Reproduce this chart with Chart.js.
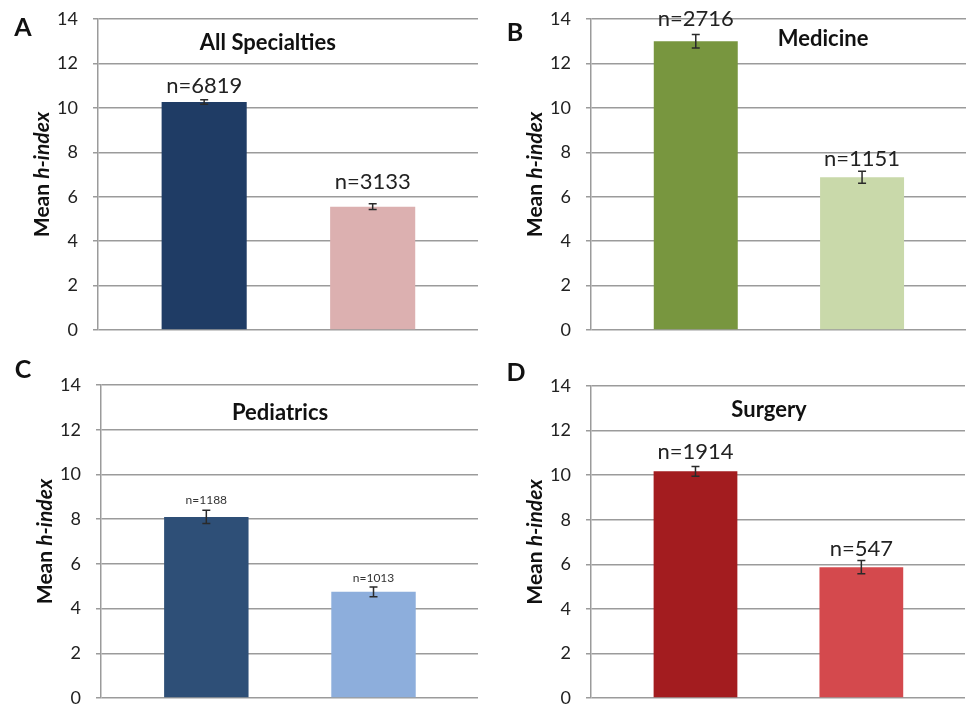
<!DOCTYPE html>
<html>
<head>
<meta charset="utf-8">
<script src="https://cdn.jsdelivr.net/npm/chart.js@4"></script>
<style>
  html, body { margin: 0; padding: 0; background: #fff; }
  #wrap { position: relative; width: 973px; height: 704px; overflow: hidden; }
  .panel { position: absolute; }
</style>
</head>
<body>
<div id="wrap">
  <div class="panel" style="left:0;top:0;width:487px;height:352px"><canvas id="cA" width="487" height="352"></canvas></div>
  <div class="panel" style="left:487px;top:0;width:486px;height:352px"><canvas id="cB" width="486" height="352"></canvas></div>
  <div class="panel" style="left:0;top:352px;width:487px;height:352px"><canvas id="cC" width="487" height="352"></canvas></div>
  <div class="panel" style="left:487px;top:352px;width:486px;height:352px"><canvas id="cD" width="486" height="352"></canvas></div>
</div>
<script>
// Bar slots (two groups per panel) and y-axis ticks
const barSlots = [0, 1];
const yTicks = [0, 2, 4, 6, 8, 10, 12, 14];

const panelLetters = ['A', 'B', 'C', 'D'];
const panelTitles = ['All Specialties', 'Medicine', 'Pediatrics', 'Surgery'];

// Mean h-index, standard error and group size per panel
const meansAll = [10.26, 5.55];
const errAll = [0.10, 0.13];
const countsAll = [6819, 3133];

const meansMed = [13.0, 6.88];
const errMed = [0.30, 0.27];
const countsMed = [2716, 1151];

const meansPed = [8.1, 4.75];
const errPed = [0.30, 0.22];
const countsPed = [1188, 1013];

const meansSurg = [10.17, 5.87];
const errSurg = [0.22, 0.30];
const countsSurg = [1914, 547];

const FONT = 'Lato, "Open Sans", sans-serif';

// Error bars, n= labels, panel title, panel letter and the two-style axis title
const panelDecor = {
  id: 'panelDecor',
  afterDatasetsDraw(chart, args, o) {
    const ctx = chart.ctx;
    const ca = chart.chartArea;
    const xs = chart.scales.x, ys = chart.scales.y;
    ctx.save();
    o.means.forEach((v, i) => {
      const x = xs.getPixelForValue(barSlots[i]);
      const hi = ys.getPixelForValue(v + o.errors[i]);
      const lo = ys.getPixelForValue(v - o.errors[i]);
      // error bar
      ctx.strokeStyle = '#2a2a2a';
      ctx.lineWidth = 1.5;
      ctx.beginPath();
      ctx.moveTo(x, hi); ctx.lineTo(x, lo);
      ctx.moveTo(x - 4, hi); ctx.lineTo(x + 4, hi);
      ctx.moveTo(x - 4, lo); ctx.lineTo(x + 4, lo);
      ctx.stroke();
      // n= label
      ctx.fillStyle = o.nColor;
      ctx.font = o.nFont;
      ctx.textAlign = 'center';
      ctx.textBaseline = 'alphabetic';
      ctx.fillText('n=' + o.counts[i], x, hi - o.nGap[i]);
    });
    // panel title
    ctx.fillStyle = '#111';
    ctx.font = 'bold 22px ' + FONT;
    ctx.textAlign = 'center';
    ctx.textBaseline = 'middle';
    ctx.fillText(o.title, ca.left + o.titlePos[0] * (ca.right - ca.left), ca.top + o.titlePos[1]);
    // panel letter
    ctx.font = 'bold 25px ' + FONT;
    ctx.fillText(o.letter, o.letterPos[0], o.letterPos[1]);
    // y-axis title: "Mean " bold, "h-index" bold italic
    ctx.translate(ca.left - 56, (ca.top + ca.bottom) / 2);
    ctx.rotate(-Math.PI / 2);
    const f1 = 'bold 21px ' + FONT, f2 = 'italic bold 21px ' + FONT;
    ctx.font = f1; const w1 = ctx.measureText('Mean ').width;
    ctx.font = f2; const w2 = ctx.measureText('h-index').width;
    ctx.textAlign = 'left';
    ctx.font = f1; ctx.fillText('Mean ', -(w1 + w2) / 2, 0);
    ctx.font = f2; ctx.fillText('h-index', -(w1 + w2) / 2 + w1, 0);
    ctx.restore();
  }
};

// Remove the label-driven padding scales ask the layout for
function noScalePadding(s) {
  s.paddingTop = 0; s.paddingBottom = 0; s.paddingLeft = 0; s.paddingRight = 0;
}

function makePanel(id, means, errors, counts, colors, cfg) {
  new Chart(document.getElementById(id), {
    type: 'bar',
    data: {
      datasets: [{
        data: barSlots.map((s, i) => ({ x: s, y: means[i] })),
        backgroundColor: colors,
        borderWidth: 0,
        barPercentage: 1,
        categoryPercentage: 0.505
      }]
    },
    options: {
      responsive: false,
      animation: false,
      events: [],
      layout: { autoPadding: false, padding: cfg.padding },
      scales: {
        x: {
          type: 'linear', display: false, offset: false, min: -0.63, max: 1.625,
          afterBuildTicks: s => { s.ticks = barSlots.map(v => ({ value: v })); },
          afterFit: s => { noScalePadding(s); }
        },
        y: {
          min: 0, max: 14,
          afterBuildTicks: s => { s.ticks = yTicks.map(v => ({ value: v })); },
          afterFit: s => { s.width = cfg.axisWidth; noScalePadding(s); },
          grid: { color: '#9b9b9b', lineWidth: 1.5, tickLength: 5 },
          border: { color: '#9b9b9b', width: 1.5 },
          ticks: { color: '#222', padding: 15, font: { family: FONT, size: 18 } }
        }
      },
      plugins: {
        legend: { display: false },
        tooltip: { enabled: false },
        panelDecor: {
          means, errors, counts,
          title: cfg.title, letter: cfg.letter,
          titlePos: cfg.titlePos, letterPos: cfg.letterPos,
          nFont: cfg.nFont, nColor: cfg.nColor, nGap: cfg.nGap
        }
      }
    },
    plugins: [panelDecor]
  });
}

makePanel('cA', meansAll, errAll, countsAll, ['#1f3c65', '#dcb0b0'], {
  padding: { left: 0, top: 19, right: 9, bottom: 22 }, axisWidth: 98,
  title: panelTitles[0], letter: panelLetters[0],
  titlePos: [0.447, 24], letterPos: [23, 28],
  nFont: '22px ' + FONT, nColor: '#222', nGap: [7, 15]
});
makePanel('cB', meansMed, errMed, countsMed, ['#78963f', '#c9d9aa'], {
  padding: { left: 0, top: 19, right: 7, bottom: 22 }, axisWidth: 104,
  title: panelTitles[1], letter: panelLetters[1],
  titlePos: [0.619, 20], letterPos: [28, 33],
  nFont: '22px ' + FONT, nColor: '#222', nGap: [9, 5]
});
makePanel('cC', meansPed, errPed, countsPed, ['#2e4f77', '#8daedc'], {
  padding: { left: 0, top: 33, right: 9, bottom: 6 }, axisWidth: 101,
  title: panelTitles[2], letter: panelLetters[2],
  titlePos: [0.475, 28], letterPos: [23, 18],
  nFont: '12px ' + FONT, nColor: '#333', nGap: [6, 5]
});
makePanel('cD', meansSurg, errSurg, countsSurg, ['#a31c1f', '#d4494d'], {
  padding: { left: 0, top: 34, right: 8, bottom: 6 }, axisWidth: 104,
  title: panelTitles[3], letter: panelLetters[3],
  titlePos: [0.476, 24], letterPos: [29, 21],
  nFont: '22px ' + FONT, nColor: '#222', nGap: [7, 4]
});
</script>
</body>
</html>
